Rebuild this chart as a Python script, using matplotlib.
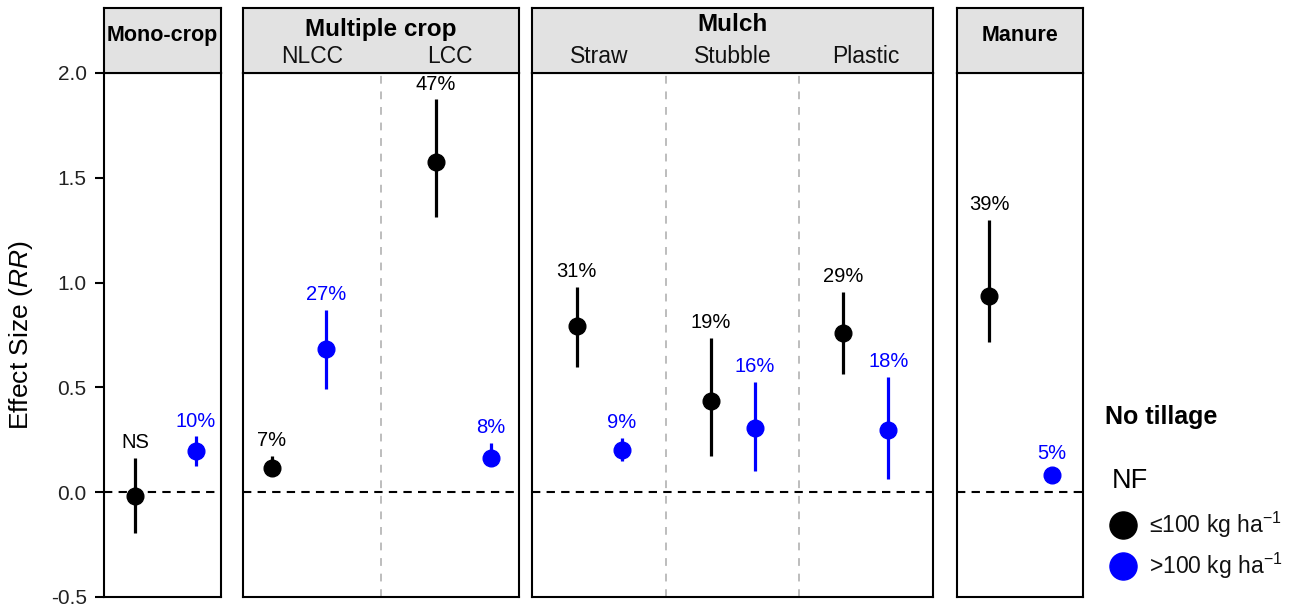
import matplotlib.pyplot as plt
from matplotlib.lines import Line2D

plt.rcParams['font.family'] = ['Liberation Sans', 'DejaVu Sans']
plt.rcParams['mathtext.fontset'] = 'custom'
plt.rcParams['mathtext.rm'] = 'Liberation Sans'
plt.rcParams['mathtext.it'] = 'Liberation Sans:italic'

# ---- effect sizes (RR) with 95% CI, by practice ----
panel_names = ['Mono-crop', 'Multiple crop', 'Mulch', 'Manure']
panel_groups = [[''], ['NLCC', 'LCC'], ['Straw', 'Stubble', 'Plastic'], ['']]

# NF <= 100 kg/ha
low_mean = [[-0.019], [0.116, 1.577], [0.792, 0.434, 0.761], [0.937]]
low_lo = [[-0.194], [0.090, 1.315], [0.599, 0.172, 0.562], [0.716]]
low_hi = [[0.164], [0.172, 1.874], [0.980, 0.737, 0.955], [1.298]]
low_text = [['NS'], ['7%', '47%'], ['31%', '19%', '29%'], ['39%']]

# NF > 100 kg/ha
high_mean = [[0.196], [0.681, 0.164], [0.200, 0.307, 0.296], [0.084]]
high_lo = [[0.127], [0.494, 0.130], [0.148, 0.100, 0.061], [0.060]]
high_hi = [[0.266], [0.869, 0.236], [0.260, 0.525, 0.551], [0.110]]
high_text = [['10%'], ['27%', '8%'], ['9%', '16%', '18%'], ['5%']]

# horizontal placement of the two NF levels inside each category
low_shift = [[-0.235], [-0.292, -0.101], [-0.167, -0.163, -0.171], [-0.246]]
high_shift = [[0.286], [0.104, 0.297], [0.171, 0.168, 0.166], [0.250]]

BLUE = '#0000FF'
W, H = 1311, 608
panel_left = [104, 243, 532, 957]
panel_width = [117, 276, 401, 126]
plot_bottom, plot_top, head_top = 597, 73, 8
title_y = [0.58, 0.67, 0.74, 0.58]
title_size = [15.5, 17.5, 17.5, 15.5]

fig = plt.figure(figsize=(W / 100, H / 100), dpi=100)

for i, name in enumerate(panel_names):
    l, w = panel_left[i] / W, panel_width[i] / W
    ax = fig.add_axes([l, (H - plot_bottom) / H, w, (plot_bottom - plot_top) / H])
    hx = fig.add_axes([l, (H - plot_top) / H, w, (plot_top - head_top) / H])

    groups = panel_groups[i]
    n = len(groups)
    ax.set_xlim(0.5, n + 0.5)
    ax.set_ylim(-0.5, 2.0)

    for k in range(1, n):
        ax.axvline(k + 0.5, color='#BDBDBD', lw=1.4, dashes=(4, 4), zorder=1)
    ax.axhline(0, color='black', lw=1.5, dashes=(4, 3), zorder=2)

    for j in range(n):
        for mean, lo, hi, txt, shift, c in [
            (low_mean, low_lo, low_hi, low_text, low_shift, 'black'),
            (high_mean, high_lo, high_hi, high_text, high_shift, BLUE),
        ]:
            x = j + 1 + shift[i][j]
            ax.plot([x, x], [lo[i][j], hi[i][j]], color=c, lw=2.3,
                    solid_capstyle='butt', zorder=3)
            ax.plot(x, mean[i][j], 'o', color=c, ms=12, zorder=4)
            ax.annotate(txt[i][j], (x, hi[i][j]), xytext=(0, 11),
                        textcoords='offset points', ha='center', va='center',
                        fontsize=14.5, color=c)

    ax.set_xticks([])
    for s in ax.spines.values():
        s.set_linewidth(1.5)
    if i == 0:
        ax.set_yticks([-0.5, 0.0, 0.5, 1.0, 1.5, 2.0])
        ax.set_yticklabels(['-0.5', '0.0', '0.5', '1.0', '1.5', '2.0'])
        ax.tick_params(axis='y', length=6.5, width=1.5, pad=6, labelsize=15,
                       labelcolor='#222222')
        ax.set_ylabel('Effect Size ($\\mathit{RR}$)', fontsize=19, labelpad=11)
    else:
        ax.set_yticks([])

    # strip header
    hx.set_facecolor('#E2E2E2')
    hx.set_xlim(0.5, n + 0.5)
    hx.set_ylim(0, 1)
    hx.set_xticks([])
    hx.set_yticks([])
    for s in hx.spines.values():
        s.set_linewidth(1.5)
    hx.text((n + 1) / 2, title_y[i], name, ha='center', va='center',
            fontsize=title_size[i], fontweight='bold')
    for j, g in enumerate(groups):
        if g:
            hx.text(j + 1, 0.25, g, ha='center', va='center', fontsize=16.5,
                    color='#111111')

# legend
fig.text(1105 / W, 1 - 417 / H, 'No tillage', fontsize=18, fontweight='bold',
         ha='left', va='center')
fig.text(1112 / W, 1 - 481 / H, 'NF', fontsize=19.5, ha='left', va='center')
for yy, c, lab in [(525, 'black', '≤100 kg ha$^{-1}$'),
                   (566, BLUE, '>100 kg ha$^{-1}$')]:
    fig.add_artist(Line2D([1123 / W], [1 - yy / H], transform=fig.transFigure,
                          marker='o', ms=19.5, color=c, linestyle='none'))
    fig.text(1149 / W, 1 - yy / H, lab, fontsize=16.5, ha='left', va='center',
             color='#111111')

fig.savefig('out.png', dpi=100)
